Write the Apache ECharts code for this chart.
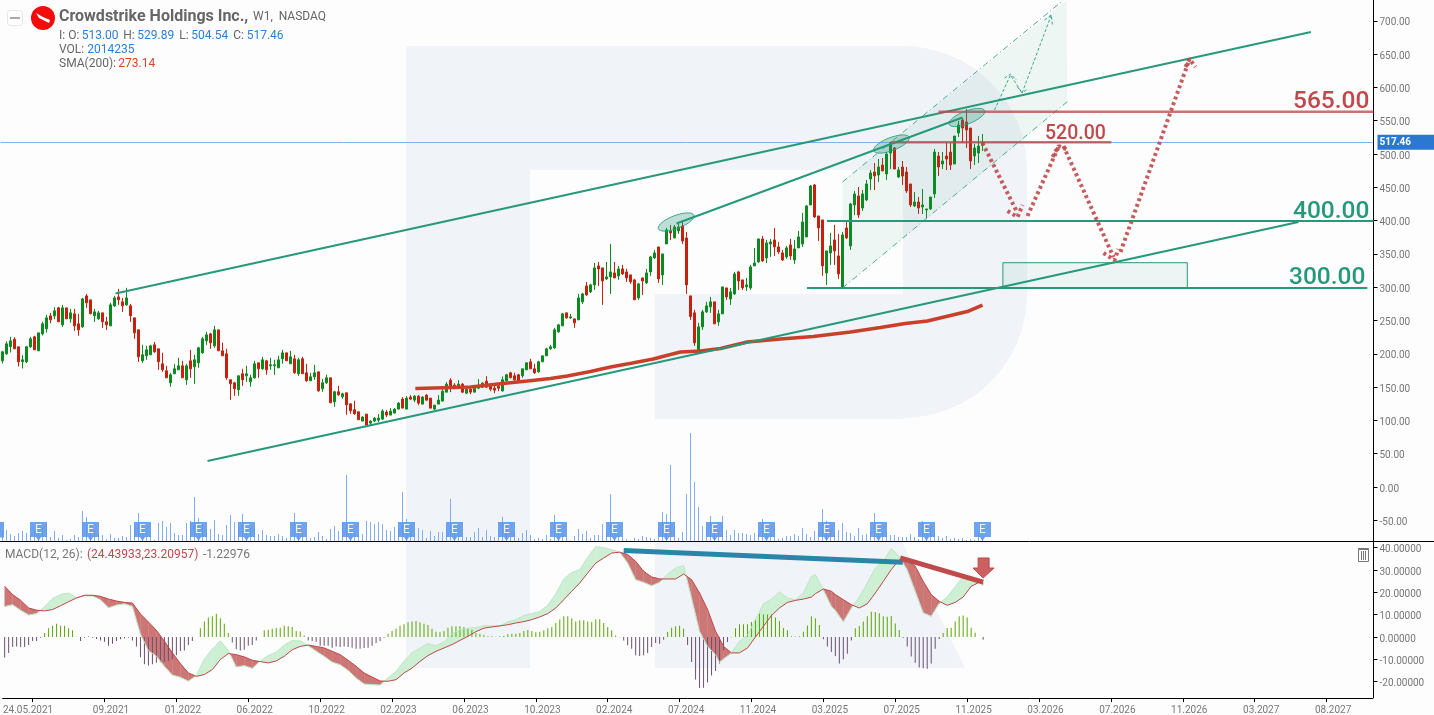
<!DOCTYPE html>
<html><head><meta charset="utf-8"><style>html,body{margin:0;padding:0;background:#fdfdfd}#c{width:1434px;height:715px}</style>
<script src="https://cdn.jsdelivr.net/npm/echarts@6/dist/echarts.min.js"></script></head><body><div id="c"></div>
<script>
// ---- tick labels ----
const dateLabels=['24.05.2021','09.2021','01.2022','06.2022','10.2022','02.2023','06.2023','10.2023','02.2024','07.2024','11.2024','03.2025','07.2025','11.2025','03.2026','07.2026','11.2026','03.2027','08.2027'];
const priceTicks=[-50,0,50,100,150,200,250,300,350,400,450,500,550,600,650,700];
const macdTicks=[-20,-10,0,10,20,30,40];
// ---- weekly candles: open, close, low, high ----
const candles=[
[189.5,203,185.5,204.5],[200,215,198.5,218.5],[211,219.5,202,225.5],[222,207.5,207.5,225],[210.5,188,181,210.5],[188,191,178,198],[188,210.5,186,212],[210.5,222.5,209,225.5],[225.5,206,206,227],[204.5,231.5,204.5,231.5],
[230,245,227.5,248],[237.5,254,232,258.5],[257,251,246,261.5],[257,264.5,252,270],[269,248,248,270.5],[243.5,269,240.5,273.5],[269,252.5,252.5,269],[252.5,261.5,246.5,267.5],[260,242,234.5,267.5],[245,236,227,260],
[240.5,282.5,239,284],[287,276.5,269,290],[281,260,260,281],[257,263,248,267.5],[252.5,261.5,251,264.5],[261.5,248,239,261.5],[248,243.5,236,255.5],[242,273.5,242,276.5],[272,284,270.5,287],[285.5,281,273.5,297.5],
[278,272,263,284],[273.5,284,272,299],[272,257,248,275],[254,231.5,222.5,254],[236,195.5,188,236],[189.5,198.5,186.5,213.5],[197,206,191,212],[198.5,212,198.5,213.5],[213.5,203,201.5,218],[207.5,188,176,207.5],
[185,176,173,201.5],[174.5,164,164,182],[156.5,168.5,150.5,171.5],[170,177.5,170,185],[176,182,176,194],[182,164,164,189.5],[161,182,153.5,185],[189.5,177.5,164,206],[180.5,191,155,198.5],[186.5,209,179,210.5],
[201.5,222.5,200,225.5],[219.5,228.5,213.5,233],[230,216.5,207.5,231.5],[212,236,209,242],[236,204.5,204.5,236],[204.5,197,197,216.5],[200,164,161,207.5],[161,155,131,161],[156.5,147.5,137,158],[146,167,137,167],
[170,161,152,177.5],[167,170,158,182],[158,164,150.5,168.5],[164,185,162.5,189.5],[186.5,177.5,164,186.5],[177.5,191,176,195.5],[189.5,176,168.5,191],[182,183.5,176,194],[182,183.5,168.5,191],[179,191,179,197],
[192.5,201.5,185,206],[201.5,189.5,189.5,201.5],[185,195.5,185,204.5],[192.5,171.5,170,198.5],[170,191,167,194],[192.5,170,170,195.5],[171.5,159.5,158,185],[159.5,165.5,159.5,171.5],[165.5,171.5,161,183.5],[173,144.5,143,173],
[147.5,156.5,143,162.5],[156.5,164,155,168.5],[164,126.5,126.5,164],[128,143,120.5,144.5],[143,138.5,137,152],[135.5,140,132.5,141.5],[141.5,123.5,108.5,141.5],[125,114.5,110,125],[116,110,108.5,129.5],[113,101,101,113],
[99,105,99,106.5],[109.5,93,93,109.5],[96,99,93,100.5],[99,103.5,97.5,105],[100.5,103.5,97.5,109.5],[102,114,100.5,117],[112.5,108,105,115.5],[108,114,108,118.5],[111,117,111,118.5],[117,126,117,127.5],
[132,118.5,118.5,135],[117,133.5,117,136.5],[135,132,130.5,138],[130.5,136.5,127.5,138],[136.5,126,123,138],[124.5,135,124.5,136.5],[138,130.5,129,139.5],[133.5,118.5,118.5,133.5],[117,123,115.5,123],[124.5,130.5,124.5,138],
[129,144,129,147],[142.5,154.5,142.5,157.5],[160.5,148.5,142.5,163.5],[153,150,147,156],[148.5,154.5,148.5,160.5],[154.5,142.5,141,156],[141,147,139.5,148.5],[147,142.5,139.5,148.5],[142.5,148.5,142.5,153],[148.5,151.5,147,162],
[150,156,148.5,157.5],[159,150,148.5,166.5],[153,147,144,156],[148.5,145.5,141,154.5],[151.5,148.5,144,154.5],[144.5,161,143,166],[159.5,168.5,158,170],[171.5,164,164,173],[167,161,158,171.5],[168.5,159.5,156.5,170],
[167,177.5,164,177.5],[176,186.5,176,186.5],[188,177.5,177.5,192.5],[177.5,171.5,170,185],[173,188,171.5,189.5],[188,197,188,197],[197,207.5,197,209],[207.5,210.5,206,213.5],[209,236,207.5,239],[233,243.5,231.5,245],
[242,260,242,261.5],[261.5,254,252.5,261.5],[254,255.5,252.5,260],[252.5,246.5,239,252.5],[251,284,251,290],[278,290,275,291.5],[302,288.5,287,308],[293,303.5,291.5,305],[303.5,329,296,336.5],[332,327.5,302,338],
[329,309.5,273.5,329],[312.5,315.5,311,338],[315.5,323,290,365],[321.5,314,314,338],[317,327.5,311,332],[327.5,320,318.5,333.5],[323,314,308,327.5],[318.5,308,305,318.5],[311,281,281,312.5],[284,305,281,306.5],
[314,309.5,288.5,314],[306.5,321.5,305,327.5],[323,345.5,317,347],[344,351.5,342.5,356],[360.5,312.5,306.5,360.5],[318.5,350,303.5,350],[365,386,365,389],[384.5,381.5,371,393.5],[374,390.5,374,393.5],[384.5,390.5,380,395],
[392,369.5,365,398],[374,303.5,290,383],[287,256,251,287],[261.5,216.5,212,266],[201.5,240.5,200,246.5],[240.5,263,236,266],[263,272,261.5,278],[270.5,278,261.5,285.5],[278,245,245,278],[248,260,242,266],
[260,300.5,260,300.5],[299,285.5,281,299],[282.5,293,273.5,299],[290,320,288.5,323],[323,309.5,296,324.5],[311,299,296,311],[300.5,303.5,294.5,314],[299,330.5,296,333.5],[332,336.5,332,359],[338,372.5,336.5,372.5],
[372.5,339.5,338,377],[344,366.5,336.5,371],[365,368,345.5,372.5],[371,360.5,347,389],[360.5,353,350,368],[351.5,341,339.5,356],[345.5,359,342.5,362],[363.5,347,341,372.5],[341,357.5,335,371],[359,375.5,359,384.5],
[365,398,360.5,411.5],[375.5,422,375.5,423.5],[423.5,452,423.5,453.5],[453.5,405.5,404,455],[407,389,369.5,407],[401,332,317,401],[321.5,354.5,303.5,354.5],[351.5,362,333.5,381.5],[371,354.5,333.5,393.5],[347,320,312.5,380],
[299,378.5,297.5,383],[389,374,372.5,398],[362,425,356,426.5],[423.5,440,408.5,444.5],[437,408.5,404,450.5],[419,440,414.5,446],[431,455,429.5,461],[462.5,471.5,446,476],[473,467,446,486.5],[468.5,480.5,458,492.5],
[483.5,474.5,474.5,494],[470,500,461,503],[501.5,516.5,477.5,518],[509,477.5,477.5,510.5],[465.5,476,464,480.5],[480.5,467,453.5,489.5],[473,444.5,441.5,480.5],[455,423.5,420.5,455],[422,428,420.5,443],[428,419,410,435.5],
[420.5,423.5,410,447.5],[416,417.5,402.5,417.5],[417.5,435.5,416,435.5],[440,503,434,507.5],[497,480.5,467,503],[485,489.5,477.5,503],[497,492.5,476,516.5],[503,483.5,476,516.5],[485,527,485,527],[531.5,543.5,525.5,549.5],
[551,539,516.5,554],[548,536,509,567.5],[539,489.5,477.5,539],[497,509,483.5,515],[501.5,512,486.5,527],[513,517.46,504.54,529.89]];
// ---- weekly volume, millions ----
const volumes=[5,5.5,3.5,2.5,4,5,4,3,6,9.5,7,8.5,2,5,1.5,3,.5,1,3,2,15,12,8,5.5,3.8,3,1,3.5,1.5,1.5,2.5,2,8,7,14,8,5.5,3,.5,9,10,7,9,4,3,3,9,10,22,11.5,8.5,5.5,6,10.5,3.5,3,8,13,9.5,7,13.5,5.5,6.5,7,3.5,5.5,3,2.5,2.5,3.5,2.5,1.5,3.5,14,5.5,3.5,2.5,1.5,2,4.5,2.5,1,6,7.5,5,9,33,8,5,3.5,3.5,10,9.5,8.5,9.5,8.5,5.5,5,7,6,24.5,11,6,3.5,6.5,5.5,1.5,5,2.5,4.5,4.5,6,21,7,5.5,2,2,2,4.5,6.5,2,5.5,2.5,2,2.5,12,8,2.5,4.5,1.5,4,5.5,3,1,1.5,1,3,1,13,5.5,3.8,1.8,.2,2.5,6,3.5,5,1.5,3,3,8.5,4.5,23.5,7,3.8,1.8,1,.2,1.5,1,2.5,2,1.5,1,6.5,14.5,13.5,38,7.5,1.5,4.5,23.5,54,29.5,17,7.5,6.5,12.5,7,5.5,12.5,5.5,3,5.5,4,4,3.5,3,4,3.5,11,5.5,3.8,7,1,1.5,2.5,2.5,3.5,2.5,6.5,3.5,2,5,5.5,16,10,5.5,4.5,5.5,9,4.5,4,2.5,6.5,3,3.5,4.5,14,5.5,4.7,4.5,3,3,2,2,2,3.5,2,1,10,8,7,5.5,2.5,1.5,2.5,1,1.5,1,1.5,.5,1,.5,4.5,2.01];
// ---- earnings weeks ----
const earnings=[9,22,35,49,61,74,87,101,113,126,139,153,166,178,191,206,219,231,245];
// ---- SMA(200) points ----
const smaWeek=[103.2,117,124.5,131.2,137,141.2,147,152,157.5,162.7,166.5,169.5,174.5,179.5,186.2,194.5,202.7,212,219.5,225.7,231.2,237,241.2,245];
const smaValue=[147.9,150.2,155,159.2,162.9,166.7,173.4,180.2,186.2,192.2,198.2,202.7,204.2,208,217.7,222.2,226,232.7,239.5,245.5,249.2,257.5,263.5,273.14];
// ---- MACD histogram per week ----
const macdHist=[-9.2,-7.2,-4.5,-4.2,-4.5,-4.5,-3.6,-1.8,-1.8,-.3,1.8,3.9,5,6,5,5,3.9,3,.1,-1.8,-.3,.4,-.3,-.9,-1.5,-2.1,-3.9,-3,-1.8,-1,-.6,-.3,-1.5,-4.2,-9,-12.2,-12.8,-12.2,-11.5,-11.3,-11.2,-10.7,-9.9,-8.2,-6.3,-6,-3.6,-1.8,0,3.9,6.9,8.7,9.3,10.4,8.4,6,1.8,-2.4,-5.5,-6,-5.7,-3.9,-3.6,-1.5,0,3,3.3,3.7,4,4.2,5.1,4.8,4.5,2.7,2.5,.7,-1.5,-1.8,-2.1,-3.9,-3.9,-3.9,-4.8,-4.2,-4.5,-4.2,-4.5,-4.8,-5.2,-5.2,-4.9,-4.8,-3.9,-2.7,-1.8,-.3,1.5,2.7,3.7,5.1,5.7,6.6,6.9,7.2,6.6,6,5.4,3.7,2.4,2.1,2.7,4.2,4.8,4.8,4.8,4.5,3.6,3.3,1.8,1.5,.9,.3,.3,.1,.4,.6,1.3,1.5,1.5,1.8,2.7,3.1,2.7,2.1,2.4,3,3.9,4.5,6.3,7.8,9.3,9.3,8.4,6.9,7.5,7.5,7,6.7,7.8,8,6.3,4.5,3,.7,-.1,-1.6,-3.7,-5.2,-8.2,-8.5,-8.2,-7.2,-4.5,-2.7,-3,-1.2,2.2,4.2,4.8,5.1,3.7,-3.6,-11.2,-19,-22.8,-22.7,-20.4,-17.2,-15.2,-11.9,-6,-2.2,-.1,3.9,5.7,5.7,5.7,6.7,7.8,10.4,10.1,10.1,10.1,8.7,7.2,4,3,.4,.2,.3,2.4,5.2,9.3,8.4,5.4,-1,-4.2,-6.7,-8.5,-11.9,-9.9,-7.5,-1.5,3.9,4.9,7,9.3,11.3,11.2,10.6,9.3,9.1,9.4,6.1,3.1,-.3,-4.2,-8.7,-11.5,-13.6,-14,-14.2,-11.9,-5.2,-.9,1.8,4,4.2,7,9.3,9.6,8.7,4.2,1.9,0,-1.23];
// ---- MACD and signal lines read at these weeks ----
const macdWeek=[0,2,4,6,8,10,12,14,16,18,20,22,24,26,28,30,32,34,36,38,40,42,44,46,48,50,52,54,56,58,60,62,64,66,68,70,72,74,76,78,80,82,84,86,88,90,92,94,96,98,100,102,104,106,108,110,112,114,116,118,120,124,126,128,130,132,134,136,138,140,142,144,146,148,150,152,154,156,158,160,162,164,166,168,170,172,174,176,178,179,180,182,184,186,188,190,192,194,196,198,200,202,203,205,207,208,210,212,214,216,218,220,222,224,226,228,230,232,234,236,238,240,242,244,245];
const signalLine=[22.7,19,16.4,13,12,11.7,12.3,14,15.8,17.5,18.7,18.7,18.2,17,16.1,15.5,15.2,10.3,6.7,3,-1.9,-7.1,-11.9,-16.1,-17.6,-16.8,-14.6,-10.1,-7.4,-7.9,-8.9,-10.4,-11,-11.6,-10.7,-8.6,-5.7,-4.2,-3.6,-4.2,-4.9,-6.4,-7.9,-10.4,-13.1,-16.1,-17.9,-19.7,-19.8,-19.1,-16.1,-13.9,-10.9,-8.3,-6.4,-4.9,-3.4,-1.5,.3,2.4,4,5,5.5,6.3,6.9,7.8,9,10.5,13,16.7,20.5,24.2,28.7,33.1,35.4,37.6,38,36.9,33.9,29.4,26.9,26,26,26,28.2,25.7,19.7,12.3,2.6,-.7,-4.2,-7.1,-7.1,-4.9,0,4.8,9.6,13,15.5,16.4,17,17.9,19.4,21.5,20.5,19,16.7,14.5,13,14.9,19.7,24.9,30.2,34.6,34.3,31.7,24.9,19,16,14.2,15.5,17.9,22.7,24.5,24.44];
const macdLine=[13.7,14.5,12,9.9,10.5,13.5,17.3,19,19.7,17.6,18.5,18.4,16.7,13.1,14.3,14.9,13.7,1.4,-6.1,-8.5,-13.1,-17,-18,-19.7,-17.3,-9.9,-5.4,-1.7,-6,-13.4,-12.8,-14,-10.7,-8.3,-6.8,-3.5,-1.6,-1.7,-3.9,-6.3,-8.6,-11.2,-12.4,-14.9,-18.3,-21,-21.3,-21.5,-18.3,-15.4,-10.9,-7,-4.9,-2.9,-3.9,-2.2,1.4,3.3,4,4.2,5.1,5,6.8,7.8,9.6,10.5,11.4,14.3,19.3,26,28.9,30.2,35.7,40.5,40,39.1,38,33.2,25.7,24.5,23,24.5,28.2,30.9,32,17.5,2.6,-4.2,-7.9,-11.3,-9.8,-7.1,-1.9,.8,7.8,14.9,17,20.2,17.5,16.6,19.7,27.2,27.9,21.2,13.8,12,6.8,13,17.9,24.2,30.9,33.9,39.6,36.1,30.1,20.5,10.9,9.3,15.1,17.9,22.5,27.2,26.9,24.5,23.21];
// ---- drawn annotations, [week, price] ----
const lastClose=517.46;
const trendUpper=[[28.25,290.5],[327.1,683.2]];
const trendMiddle=[[168.5,395.6],[240,554.8]];
const trendLower=[[51.25,39],[324,397.9]];
const level565=[[234,563.5],[342.75,563.5]];
const level520=[[222,517.6],[277.2,517.6]];
const level400=[[206.1,399.4],[342.75,399.4]];
const level300=[[201.1,298.8],[341.2,298.8]];
const channelLow=[[210,298.8],[266.2,578.5]];
const channelHigh=[[210,458],[265.25,731]];
const channelFill=[[210,298.8],[210,458],[266,731],[266.2,578.5]];
const targetBox=[[250.1,298.8],[250.1,336.8],[296.2,336.8],[296.2,298.8]];
const forecast=[[[245,516.5],[253.75,411.4]],[[256.25,406.9],[264,510.5]],[[265.25,512],[277.75,345.3]],[[279.5,352.9],[296.75,642.6]],
 [[251.25,414.4],[253.75,405.4],[255,423.4]],[[262.5,495.5],[264,512],[266.5,506]],[[275.25,351.4],[278,340.8],[279,357.4]],[[295.75,630.6],[296.75,642.6],[298.25,630.6]]];
const scenarioUp=[[[248,566],[252,618.6],[254.9,591.6],[262.2,708.7]],[[250.5,614],[252,620],[253.5,611]],[[253.75,600.6],[254.9,591.6],[256.25,597.6]],[[260.5,701.2],[262.2,708.7],[262.5,692.2]]];
const peakMarks=[[168.4,397.9],[222.25,515],[241.1,554.8]];
const macdBlue=[[155,38.7],[224.9,33.5]];
const macdRed=[[224.25,35.4],[245,24.6]];
const macdArrow=[[245,26.4],[242.5,30.9],[243.75,30.9],[243.75,35.4],[246.5,35.4],[246.5,30.9],[247.75,30.9]];
// ---- styles ----
const GREEN='#26997b',RED='#c0494b',GREY='#777',FONT='Roboto',UP='#0b8a1f',DOWN='#c8200e',SHADE='#f0f3f7',BLUE='#2f7ed8';

const SLOTS=343;
const isDateTick=i=>i>=7&&(i-7)%18===0;
const categories=Array.from({length:SLOTS},(_,i)=>isDateTick(i)?dateLabels[(i-7)/18]:'');

function line(data,style,xa,ya,z,extra){return Object.assign({type:'line',data,xAxisIndex:xa,yAxisIndex:ya,symbol:'none',silent:true,z:z||6,animation:false,lineStyle:style,emphasis:{disabled:true}},extra||{});}
function poly(points,fill,stroke,xa,ya,z,lw){return {type:'custom',xAxisIndex:xa,yAxisIndex:ya,silent:true,z:z||4,clip:true,data:[0],
 renderItem:(p,api)=>({type:'polygon',shape:{points:points.map(q=>api.coord(q))},style:{fill,stroke:stroke||'none',lineWidth:lw||1}})};}

// fill between MACD and signal, split at every crossing
const fills=[];
for(let i=0;i<macdWeek.length-1;i++){
  const k0=macdWeek[i],k1=macdWeek[i+1],a0=macdLine[i],a1=macdLine[i+1],b0=signalLine[i],b1=signalLine[i+1];
  const d0=a0-b0,d1=a1-b1;
  if(d0*d1<0){const t=d0/(d0-d1),kc=k0+t*(k1-k0),vc=a0+t*(a1-a0);
    fills.push({pts:[[k0,a0],[kc,vc],[k0,b0]],up:d0>0});
    fills.push({pts:[[kc,vc],[k1,a1],[k1,b1]],up:d1>0});
  } else fills.push({pts:[[k0,a0],[k1,a1],[k1,b1],[k0,b0]],up:(d0+d1)>0});
}
const ovals=peakMarks;
const ovalShape={rx:19,ry:6.5,tilt:-21*Math.PI/180};

const series=[
 {type:'bar',name:'VOL',data:volumes,xAxisIndex:0,yAxisIndex:1,barWidth:1,silent:true,z:2,itemStyle:{color:'#82aef0'}},
 {type:'candlestick',name:'Crowdstrike',data:candles,xAxisIndex:0,yAxisIndex:0,barWidth:2,silent:true,z:3,
  itemStyle:{color:UP,color0:DOWN,borderColor:UP,borderColor0:DOWN,borderWidth:1},
  markLine:{silent:true,symbol:'none',animation:false,z:2,data:[{yAxis:lastClose}],lineStyle:{color:'#7fb2ee',width:1,type:'solid'},
   label:{show:true,position:'end',distance:5,formatter:()=>lastClose.toFixed(2),backgroundColor:'#2b78d0',color:'#fff',fontFamily:FONT,fontSize:10,fontWeight:'bold',padding:[2,0,2,2],width:55,height:11,lineHeight:11}}},
 {type:'scatter',name:'E',data:earnings.map(k=>[k,4.75]),xAxisIndex:0,yAxisIndex:1,silent:true,z:5,
  symbol:'path://M0,0 H17 V15 H11 L8.5,19 L6,15 H0 Z',symbolSize:[17,19],itemStyle:{color:'#5a96ee',opacity:.88},
  label:{show:true,position:'inside',formatter:'E',color:'#fff',fontFamily:FONT,fontSize:12,offset:[0,-2]}},
 poly(channelFill,'rgba(38,153,123,.07)',null,2,0,4),
 poly(targetBox,'rgba(38,153,123,.08)',GREEN,2,0,4),
 line(smaWeek.map((k,i)=>[k,smaValue[i]]),{color:'#c8402a',width:3.5},2,0,5),
 line(channelLow,{color:'#4aa88f',width:1,type:[6,3,1,3]},2,0),
 line(channelHigh,{color:'#4aa88f',width:1,type:[6,3,1,3]},2,0),
 ...scenarioUp.map(s=>line(s,{color:'#3aa58a',width:1,type:[3,2]},2,0)),
 line(trendUpper,{color:GREEN,width:2},2,0),
 line(trendMiddle,{color:GREEN,width:2},2,0),
 line(trendLower,{color:GREEN,width:2},2,0),
 line(level400,{color:GREEN,width:2},2,0),
 line(level300,{color:GREEN,width:2},2,0),
 line(level565,{color:'rgba(192,73,75,.78)',width:2.5},2,0),
 line(level520,{color:'rgba(192,73,75,.78)',width:2.5},2,0),
 ...forecast.map(s=>line(s,{color:'rgba(192,73,75,.9)',width:4,type:[3,3]},2,0)),
 {type:'custom',xAxisIndex:2,yAxisIndex:0,silent:true,z:7,clip:true,data:ovals.map((_,i)=>i),
  renderItem:(p,api)=>{const c=api.coord(ovals[p.dataIndex]);const pts=[];
   for(let a=0;a<36;a++){const t=a/36*2*Math.PI,x=ovalShape.rx*Math.cos(t),y=ovalShape.ry*Math.sin(t);
    pts.push([c[0]+x*Math.cos(ovalShape.tilt)-y*Math.sin(ovalShape.tilt),c[1]+x*Math.sin(ovalShape.tilt)+y*Math.cos(ovalShape.tilt)]);}
   return {type:'polygon',shape:{points:pts},style:{fill:'rgba(38,153,123,.3)',stroke:'rgba(38,153,123,.85)',lineWidth:1}};}},
 // MACD panel
 {type:'custom',xAxisIndex:3,yAxisIndex:2,silent:true,z:3,clip:true,data:fills.map((_,i)=>i),
  renderItem:(p,api)=>{const f=fills[p.dataIndex];return {type:'polygon',shape:{points:f.pts.map(q=>api.coord(q))},style:{fill:f.up?'#cdefd4':'#cc7676',stroke:f.up?'#cdefd4':'#cc7676',lineWidth:.3}};}},
 {type:'bar',name:'hist',data:macdHist,xAxisIndex:1,yAxisIndex:2,barWidth:1,silent:true,z:4,itemStyle:{color:p=>p.value>=0?'#5aa600':'#6b5070'}},
 line(macdWeek.map((k,i)=>[k,macdLine[i]]),{color:'#bfe8c4',width:1},3,2,5),
 line(macdWeek.map((k,i)=>[k,signalLine[i]]),{color:'#c0494b',width:1},3,2,5),
 line(macdBlue,{color:'#2a86a8',width:5},3,2,7),
 line(macdRed,{color:RED,width:5},3,2,7),
 poly(macdArrow,'#cc5f5f',RED,3,2,8),
];

function txt(x,y,text,font,fill){return {type:'text',x,y,z:20,silent:true,style:{text,font,fill,verticalAlign:'middle'}};}
const F12='12px '+FONT;
const W=(o)=>Object.assign({z:-5,silent:true},o);
const graphic=[
 // watermark
 W({type:'rect',shape:{x:406,y:46,width:124,height:622},style:{fill:SHADE}}),
 W({type:'rect',shape:{x:530,y:46,width:373,height:124},style:{fill:SHADE}}),
 W({type:'rect',shape:{x:903,y:170,width:124,height:124},style:{fill:SHADE}}),
 W({type:'rect',shape:{x:655,y:294,width:248,height:125},style:{fill:SHADE}}),
 W({type:'sector',shape:{cx:903,cy:170,r:124,startAngle:-Math.PI/2,endAngle:0},style:{fill:SHADE}}),
 W({type:'sector',shape:{cx:903,cy:294,r:124,startAngle:0,endAngle:Math.PI/2},style:{fill:SHADE}}),
 W({type:'polygon',shape:{points:[[655,542],[902,542],[965,668],[655,668]]},style:{fill:SHADE}}),
 // clipped earnings flag at left edge
 {type:'rect',z:5,silent:true,shape:{x:0,y:522,width:4,height:15.5},style:{fill:'#5a96ee',opacity:.88}},
 // right end of panel separator
 {type:'line',z:10,silent:true,shape:{x1:1372,y1:541.5,x2:1434,y2:541.5},style:{stroke:'#000',lineWidth:1}},
 // header
 {type:'rect',z:20,silent:true,shape:{x:7.5,y:10.5,width:15,height:15,r:3},style:{fill:'#fff',stroke:'#e6e6e6',lineWidth:1}},
 {type:'line',z:21,silent:true,shape:{x1:10,y1:18,x2:20,y2:18},style:{stroke:'#aaa',lineWidth:2}},
 {type:'circle',z:20,silent:true,shape:{cx:43,cy:18,r:12},style:{fill:'#f40b0b'}},
 {type:'polygon',z:21,silent:true,shape:{points:[[36,13],[43,17],[50,20],[49,23],[43,20],[39,18]]},style:{fill:'#fff'}},
 txt(59,16.5,'Crowdstrike Holdings Inc.,','bold 16px '+FONT,'#666'),
 txt(253,16.5,'W1,  NASDAQ',F12,'#666'),
 txt(59,36,'I: O:',F12,'#666'),txt(81.7,36,'513.00',F12,BLUE),
 txt(123.3,36,'H:',F12,'#666'),txt(137.3,36,'529.89',F12,BLUE),
 txt(179.3,36,'L:',F12,'#666'),txt(191.3,36,'504.54',F12,BLUE),
 txt(233.3,36,'C:',F12,'#666'),txt(246.7,36,'517.46',F12,BLUE),
 txt(59,50,'VOL:',F12,'#666'),txt(87.3,50,'2014235',F12,BLUE),
 txt(59,64,'SMA(200):',F12,'#666'),txt(118.3,64,'273.14',F12,'#d9432f'),
 txt(5,555,'MACD(12, 26):',F12,'#777'),txt(87,555,'(24.43933,23.20957)',F12,RED),txt(203,555,'-1.22976',F12,'#777'),
 // level labels
 txt(1293,102,'565.00','500 24.5px '+FONT,RED),
 txt(1045,134,'520.00','500 19.5px '+FONT,RED),
 txt(1293,212,'400.00','500 24.5px '+FONT,GREEN),
 txt(1289,278,'300.00','500 24.5px '+FONT,GREEN),
 // trash icon
 {type:'rect',z:20,silent:true,shape:{x:1358.5,y:549.5,width:10,height:12},style:{fill:'none',stroke:'#777',lineWidth:1}},
 {type:'line',z:20,silent:true,shape:{x1:1358,y1:548.5,x2:1369,y2:548.5},style:{stroke:'#777',lineWidth:1}},
 {type:'line',z:20,silent:true,shape:{x1:1361.5,y1:551,x2:1361.5,y2:560},style:{stroke:'#777',lineWidth:1}},
 {type:'line',z:20,silent:true,shape:{x1:1363.5,y1:551,x2:1363.5,y2:560},style:{stroke:'#777',lineWidth:1}},
 {type:'line',z:20,silent:true,shape:{x1:1365.5,y1:551,x2:1365.5,y2:560},style:{stroke:'#777',lineWidth:1}},
];
const axisLine={show:true,onZero:false,lineStyle:{color:'#000',width:1}};
const tickRich={t:{padding:[4,0,0,0],color:GREY,fontFamily:FONT,fontSize:10}};
const option={
 animation:false,backgroundColor:'#fdfdfd',textStyle:{fontFamily:FONT},
 grid:[{left:.5,top:0,width:1372,height:541,containLabel:false},{left:.5,top:541,width:1372,height:157,containLabel:false}],
 xAxis:[
  {type:'category',gridIndex:0,data:categories,boundaryGap:true,axisLine,axisTick:{show:false},axisLabel:{show:false},splitLine:{show:false}},
  {type:'category',gridIndex:1,data:categories,boundaryGap:true,axisLine,
   axisTick:{show:true,alignWithLabel:true,interval:(i)=>isDateTick(i),length:4,lineStyle:{color:'#000'}},
   axisLabel:{show:true,interval:(i)=>isDateTick(i),color:GREY,fontFamily:FONT,fontSize:10,margin:7,padding:[0,0,0,13],hideOverlap:false,
    formatter:(v)=>v===dateLabels[0]?'{f|'+v+'}':v,rich:{f:{padding:[0,22,0,0],color:GREY,fontFamily:FONT,fontSize:10}}},splitLine:{show:false}},
  {type:'value',gridIndex:0,min:-.5,max:342.5,show:false},
  {type:'value',gridIndex:1,min:-.5,max:342.5,show:false},
 ],
 yAxis:[
  {type:'value',gridIndex:0,position:'right',offset:1,min:-81,max:731.2,axisLine,splitLine:{show:false},
   axisTick:{show:true,length:4,customValues:priceTicks,lineStyle:{color:'#000'}},
   axisLabel:{show:true,customValues:priceTicks,margin:6,rich:tickRich,formatter:v=>'{t|'+(+v).toFixed(2)+'}'}},
  {type:'value',gridIndex:0,min:0,max:270.5,show:false},
  {type:'value',gridIndex:1,position:'right',offset:1,min:-27.3,max:43,axisLine,splitLine:{show:false},
   axisTick:{show:true,length:4,customValues:macdTicks,lineStyle:{color:'#000'}},
   axisLabel:{show:true,customValues:macdTicks,margin:6,rich:tickRich,formatter:v=>'{t|'+(+v).toFixed(5)+'}'}},
 ],
 graphic,series
};
const chart=echarts.init(document.getElementById('c'),null,{renderer:'canvas',width:1434,height:715});
chart.setOption(option);
</script></body></html>
